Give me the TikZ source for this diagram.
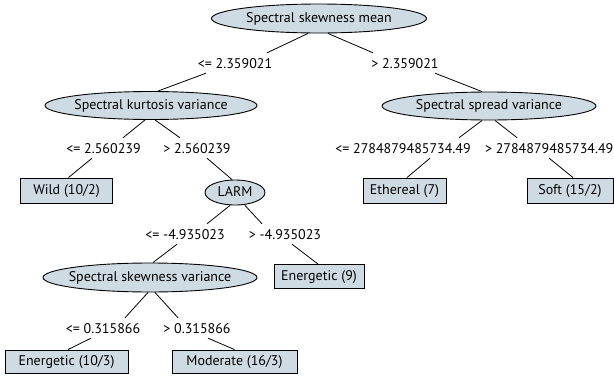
\documentclass[tikz,border=0pt]{standalone}
\usepackage{fontspec}
\setmainfont{PT Sans}
\usetikzlibrary{shapes.geometric}
\definecolor{nodefill}{RGB}{207,219,227}
\begin{document}
\begin{tikzpicture}[x=1pt,y=-1pt,
  every node/.style={font=\fontsize{14}{17}\selectfont, text height=10pt, text depth=3pt},
  splitnode/.style={ellipse, draw, line width=0.9pt, fill=nodefill, inner sep=0pt},
  leafnode/.style={rectangle, draw, line width=0.9pt, fill=nodefill, inner sep=0pt},
  edgelabel/.style={inner sep=0pt},
  conn/.style={line width=0.8pt}]
\useasboundingbox (0,0) rectangle (614,378);
% split nodes
\node[splitnode, minimum width=215pt, minimum height=29pt] (root) at (319,18.5) {\makebox[0pt]{Spectral skewness mean}};
\node[splitnode, minimum width=212pt, minimum height=28pt] (kurt) at (151,105.5) {\makebox[0pt]{Spectral kurtosis variance}};
\node[splitnode, minimum width=214pt, minimum height=28pt] (spread) at (489,106) {\makebox[0pt]{Spectral spread variance}};
\node[splitnode, minimum width=60pt, minimum height=25pt] (larm) at (235,192.5) {\makebox[0pt]{LARM}};
\node[splitnode, minimum width=214pt, minimum height=29pt] (ssv) at (150,277.5) {\makebox[0pt]{Spectral skewness variance}};
% leaves
\node[leafnode, minimum width=92pt, minimum height=25pt] (wild) at (66.5,190.5) {\makebox[0pt]{Wild (10/2)}};
\node[leafnode, minimum width=83pt, minimum height=25pt] (ethereal) at (404.5,190.5) {\makebox[0pt]{Ethereal (7)}};
\node[leafnode, minimum width=86pt, minimum height=25pt] (soft) at (570,190.5) {\makebox[0pt]{Soft (15/2)}};
\node[leafnode, minimum width=90pt, minimum height=24pt] (en9) at (319,276.5) {\makebox[0pt]{Energetic (9)}};
\node[leafnode, minimum width=123pt, minimum height=23pt] (en10) at (66.5,361.5) {\makebox[0pt]{Energetic (10/3)}};
\node[leafnode, minimum width=125pt, minimum height=23pt] (mod) at (234.5,361.5) {\makebox[0pt]{Moderate (16/3)}};
% edge labels
\node[edgelabel] (l1a) at (235,64.5) {<= 2.359021};
\node[edgelabel] (l1b) at (405,64.5) {> 2.359021};
\node[edgelabel] (l2a) at (103.5,149.5) {<= 2.560239};
\node[edgelabel] (l2b) at (197,149.5) {> 2.560239};
\node[edgelabel] (l2c) at (403,149.5) {<= 2784879485734.49};
\node[edgelabel, anchor=east] (l2d) at (613.5,149.5) {> 2784879485734.49};
\node[edgelabel] (l3a) at (185,235.5) {<= -4.935023};
\node[edgelabel] (l3b) at (285,235.5) {> -4.935023};
\node[edgelabel] (l4a) at (103,329.5) {<= 0.315866};
\node[edgelabel] (l4b) at (197,329.5) {> 0.315866};
% connectors
\draw[conn] ([xshift=-11pt]root.south) -- ([xshift=32pt,yshift=5pt]l1a.north);
\draw[conn] ([xshift=9pt]root.south) -- ([xshift=-32pt,yshift=5pt]l1b.north);
\draw[conn] ([xshift=-29pt,yshift=-2pt]l1a.south) -- ([xshift=7pt]kurt.north);
\draw[conn] ([xshift=30pt,yshift=-2pt]l1b.south) -- ([xshift=-7pt]spread.north);
\draw[conn] ([xshift=-6pt]kurt.south) -- ([xshift=19.5pt,yshift=5pt]l2a.north);
\draw[conn] ([xshift=4pt]kurt.south) -- ([xshift=-17pt,yshift=5pt]l2b.north);
\draw[conn] ([xshift=-11.5pt,yshift=-2pt]l2a.south) -- ([xshift=2pt]wild.north);
\draw[conn] ([xshift=10pt,yshift=-2pt]l2b.south) -- ([xshift=-3pt]larm.north);
\draw[conn] ([xshift=-7pt]spread.south) -- ([xshift=56pt,yshift=5pt]l2c.north);
\draw[conn] ([xshift=6pt]spread.south) -- ([xshift=-32pt,yshift=5pt]l2d.north);
\draw[conn] ([xshift=27pt,yshift=-2pt]l2c.south) -- ([xshift=2.5pt]ethereal.north);
\draw[conn] ([yshift=-2pt]l2d.south) -- ([xshift=3pt]soft.north);
\draw[conn] ([xshift=-5pt]larm.south) -- ([xshift=22pt,yshift=5pt]l3a.north);
\draw[conn] ([xshift=10pt]larm.south) -- ([xshift=-23pt,yshift=5pt]l3b.north);
\draw[conn] ([xshift=-8pt,yshift=-2pt]l3a.south) -- ([xshift=3pt]ssv.north);
\draw[conn] ([xshift=7pt,yshift=-2pt]l3b.south) -- ([xshift=-1pt]en9.north);
\draw[conn] ([xshift=-2pt]ssv.south) -- ([xshift=22pt,yshift=5pt]l4a.north);
\draw[conn] ([xshift=5pt]ssv.south) -- ([xshift=-19pt,yshift=5pt]l4b.north);
\draw[conn] ([xshift=-12pt,yshift=-2pt]l4a.south) -- ([xshift=1.5pt]en10.north);
\draw[conn] ([xshift=11pt,yshift=-2pt]l4b.south) -- (mod.north);
\end{tikzpicture}
\end{document}
